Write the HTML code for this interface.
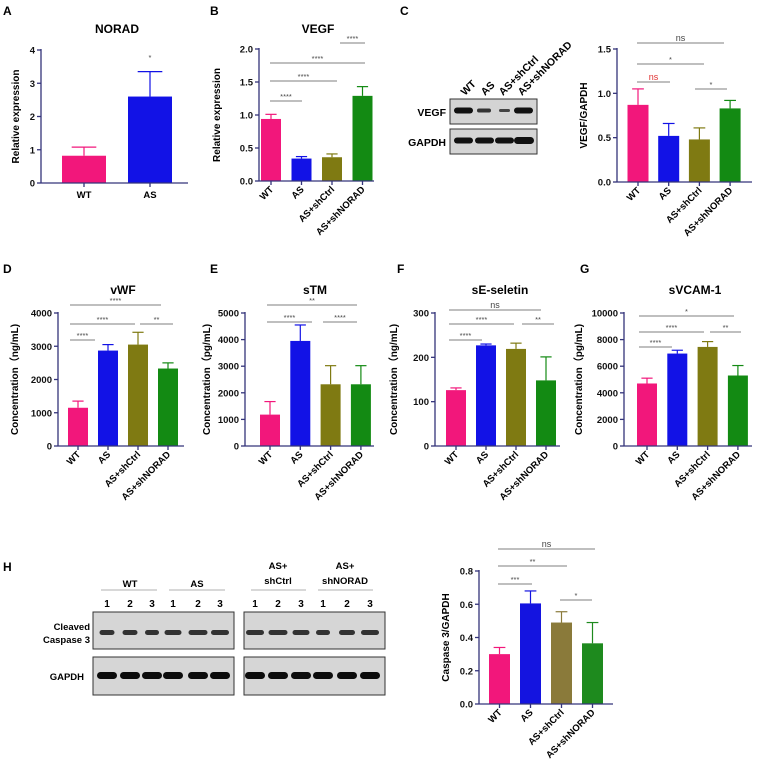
<!DOCTYPE html>
<html><head><meta charset="utf-8">
<style>
html,body{margin:0;padding:0;background:#fff;}
svg{display:block;font-family:"Liberation Sans",Arial,sans-serif;}
</style></head>
<body>
<svg id="fig" width="760" height="771" viewBox="0 0 760 771" xmlns="http://www.w3.org/2000/svg">
<g font-weight="bold" font-size="12" fill="#000">
<text x="3" y="15">A</text><text x="210" y="15">B</text><text x="400" y="15">C</text>
<text x="3" y="273">D</text><text x="210" y="273">E</text><text x="397" y="273">F</text><text x="580" y="273">G</text>
<text x="3" y="571">H</text>
</g>
<!-- Western blot C -->
<g>
<rect x="450" y="99" width="87" height="25" fill="#d4d4d4" stroke="#333" stroke-width="1"/>
<rect x="450" y="129" width="87" height="25" fill="#d4d4d4" stroke="#333" stroke-width="1"/>
<text x="446" y="116" text-anchor="end" font-size="10.5" font-weight="bold">VEGF</text>
<text x="446" y="146" text-anchor="end" font-size="10.5" font-weight="bold">GAPDH</text>
<rect x="454" y="107.5" width="19" height="6" rx="3" fill="#111"/>
<rect x="477" y="108.5" width="14" height="4" rx="2" fill="#333"/>
<rect x="499" y="109" width="11" height="3" rx="1.5" fill="#444"/>
<rect x="514" y="107.5" width="19" height="6" rx="3" fill="#111"/>
<rect x="454" y="137.5" width="19" height="6" rx="3" fill="#111"/>
<rect x="475" y="137.5" width="19" height="6" rx="3" fill="#111"/>
<rect x="495" y="137.5" width="19" height="6" rx="3" fill="#111"/>
<rect x="514" y="137" width="20" height="7" rx="3.5" fill="#111"/>
<g font-size="10.5" font-weight="bold">
<text transform="translate(465,96) rotate(-45)">WT</text>
<text transform="translate(485,96) rotate(-45)">AS</text>
<text transform="translate(503,96) rotate(-45)">AS+shCtrl</text>
<text transform="translate(522,96) rotate(-45)">AS+shNORAD</text>
</g>
</g>
<!-- Western blot H -->
<g font-weight="bold" font-size="9.5">
<rect x="93" y="612" width="141" height="37" fill="#d6d6d6" stroke="#333"/>
<rect x="93" y="657" width="141" height="38" fill="#d6d6d6" stroke="#333"/>
<rect x="244" y="612" width="141" height="37" fill="#d6d6d6" stroke="#333"/>
<rect x="244" y="657" width="141" height="38" fill="#d6d6d6" stroke="#333"/>
<text x="90" y="630" text-anchor="end">Cleaved</text>
<text x="90" y="643" text-anchor="end">Caspase 3</text>
<text x="84" y="680" text-anchor="end">GAPDH</text>
<text x="130" y="587" text-anchor="middle">WT</text>
<text x="197" y="587" text-anchor="middle">AS</text>
<text x="278" y="569" text-anchor="middle">AS+</text>
<text x="278" y="584" text-anchor="middle">shCtrl</text>
<text x="345" y="569" text-anchor="middle">AS+</text>
<text x="345" y="584" text-anchor="middle">shNORAD</text>
<g stroke="#999" stroke-width="0.8">
<line x1="101" y1="590" x2="157" y2="590"/><line x1="169" y1="590" x2="225" y2="590"/>
<line x1="251" y1="590" x2="306" y2="590"/><line x1="318" y1="590" x2="373" y2="590"/>
</g>
<g id="laneNums" text-anchor="middle"></g>
<g id="bands"></g>
</g>
<g id="charts"></g>
</svg>
<script>
// ---- data ----
const groups4 = ["WT","AS","AS+shCtrl","AS+shNORAD"];
const noradCats = ["WT","AS"];
const noradValues = [0.82, 2.6];
const noradErrors = [1.08, 3.35];
const noradTicks = [0,1,2,3,4];
const vegfValues = [0.94, 0.34, 0.36, 1.29];
const vegfErrors = [1.01, 0.37, 0.41, 1.43];
const vegfTicks = ["0.0","0.5","1.0","1.5","2.0"];
const vegfWbValues = [0.87, 0.52, 0.48, 0.83];
const vegfWbErrors = [1.05, 0.66, 0.61, 0.92];
const vegfWbTicks = ["0.0","0.5","1.0","1.5"];
const vwfValues = [1150, 2870, 3050, 2330];
const vwfErrors = [1350, 3050, 3420, 2500];
const vwfTicks = [0,1000,2000,3000,4000];
const stmValues = [1180, 3950, 2320, 2320];
const stmErrors = [1670, 4550, 3020, 3020];
const stmTicks = [0,1000,2000,3000,4000,5000];
const seselValues = [126, 227, 219, 148];
const seselErrors = [131, 230, 232, 201];
const seselTicks = [0,100,200,300];
const svcamValues = [4700, 6950, 7450, 5300];
const svcamErrors = [5100, 7200, 7850, 6050];
const svcamTicks = [0,2000,4000,6000,8000,10000];
const casValues = [0.30, 0.605, 0.49, 0.365];
const casErrors = [0.34, 0.68, 0.555, 0.49];
const casTicks = ["0.0","0.2","0.4","0.6","0.8"];

const NS = "http://www.w3.org/2000/svg";
function mk(tag, attrs, parent){
  const e = document.createElementNS(NS, tag);
  for (const k in attrs) e.setAttribute(k, attrs[k]);
  parent.appendChild(e); return e;
}
const COLS = ["#f2177b","#1212e6","#7f7a12","#138a13"];
const COLS_H = ["#f2177b","#1414e0","#8a7a3a","#1e8a1e"];

function chart(cfg){
  const root = document.getElementById("charts");
  const g = mk("g", {}, root);
  
  
  const n = cfg.values.length;
  const tmax = parseFloat(cfg.ticks[cfg.ticks.length-1]);
  const ys = v => cfg.y0 - (v / tmax) * (cfg.y0 - cfg.yTop);
  const xc = i => cfg.x0 + cfg.first + i * cfg.step;
  if (cfg.title){
    const t = mk("text", {x: cfg.titleX, y: cfg.titleY, "text-anchor":"middle", "font-size":"12", "font-weight":"bold"}, g);
    t.textContent = cfg.title;
    
    
  }
  for (let i=0;i<n;i++){
    const col = cfg.colors[i];
    const top = ys(cfg.values[i]);
    const b = mk("rect", {x: xc(i)-cfg.bw/2, y: top, width: cfg.bw, height: cfg.y0-top, fill: col}, g);
    
    
    const et = ys(cfg.errors[i]);
    mk("line", {x1: xc(i), y1: top, x2: xc(i), y2: et, stroke: col, "stroke-width": 1.2}, g);
    mk("line", {x1: xc(i)-cfg.bw*0.28, y1: et, x2: xc(i)+cfg.bw*0.28, y2: et, stroke: col, "stroke-width": 1.2}, g);
  }
  const ax = mk("g", {stroke:"#34347a", "stroke-width":1.3}, g);
  
  
  mk("line", {x1: cfg.x0, y1: cfg.yTop-1, x2: cfg.x0, y2: cfg.y0}, ax);
  mk("line", {x1: cfg.x0, y1: cfg.y0, x2: cfg.xEnd, y2: cfg.y0}, ax);
  cfg.ticks.forEach(tv=>{
    const y = ys(parseFloat(tv));
    mk("line", {x1: cfg.x0-4, y1: y, x2: cfg.x0, y2: y}, ax);
    const tl = mk("text", {x: cfg.x0-6, y: y+3.5, "text-anchor":"end", "font-size":"9.5", "font-weight":"bold", stroke:"none", fill:"#111"}, g);
    tl.textContent = tv;
    
    
  });
  for (let i=0;i<n;i++){
    mk("line", {x1: xc(i), y1: cfg.y0, x2: xc(i), y2: cfg.y0+4}, ax);
    let lab;
    if (cfg.flat){
      lab = mk("text", {x: xc(i), y: cfg.y0+15, "text-anchor":"middle", "font-size":"9.5", "font-weight":"bold"}, g);
    } else {
      lab = mk("text", {transform: `translate(${xc(i)+3},${cfg.y0+9}) rotate(-45)`, "text-anchor":"end", "font-size":"9.5", "font-weight":"bold"}, g);
    }
    lab.textContent = cfg.cats[i];
    
    
  }
  const yt = mk("text", {transform:`translate(${cfg.ytX},${(cfg.y0+cfg.yTop)/2}) rotate(-90)`, "text-anchor":"middle", "font-size":"10", "font-weight":"bold"}, g);
  yt.textContent = cfg.ytitle;
  
  
  (cfg.sig||[]).forEach(s=>{
    mk("line", {x1: s[0], y1: s[2], x2: s[1], y2: s[2], stroke:"#555", "stroke-width":0.8}, g);
    const st = mk("text", {x:(s[0]+s[1])/2, y: s[2]-2, "text-anchor":"middle", "font-size": s[3].startsWith("n")?"9":"7.5", fill: s[4]||"#444"}, g);
    st.textContent = s[3];
    
    
  });
}

chart({name:"chart-norad", cats:noradCats, values:noradValues, errors:noradErrors, ticks:noradTicks,
  x0:41, y0:183, yTop:50, xEnd:188, first:43, step:66, bw:44, colors:[COLS[0],COLS[1]],
  title:"NORAD", titleX:117, titleY:33, ytitle:"Relative expression", ytX:19, flat:true,
  sig:[[150,150,62,"*"]]});
chart({name:"chart-vegf", cats:groups4, values:vegfValues, errors:vegfErrors, ticks:vegfTicks,
  x0:259, y0:181, yTop:49, xEnd:374, first:12, step:30.5, bw:20, colors:COLS,
  title:"VEGF", titleX:318, titleY:33, ytitle:"Relative expression", ytX:220,
  sig:[[270,302,101,"****"],[270,337,81,"****"],[270,365,63,"****"],[340,365,43,"****"]]});
chart({name:"chart-vegf-gapdh", cats:groups4, values:vegfWbValues, errors:vegfWbErrors, ticks:vegfWbTicks,
  x0:617, y0:182, yTop:49, xEnd:752, first:21, step:30.7, bw:21, colors:COLS,
  ytitle:"VEGF/GAPDH", ytX:587,
  sig:[[637,724,43,"ns"],[637,704,64,"*"],[637,670,82,"ns","#e03030"],[695,727,89,"*"]]});
chart({name:"chart-vwf", cats:groups4, values:vwfValues, errors:vwfErrors, ticks:vwfTicks,
  x0:58, y0:446, yTop:313, xEnd:184, first:20, step:30, bw:20, colors:COLS,
  title:"vWF", titleX:123, titleY:294, ytitle:"Concentration（ng/mL)", ytX:18,
  sig:[[70,161,305,"****"],[70,135,324,"****"],[140,173,324,"**"],[70,95,340,"****"]]});
chart({name:"chart-stm", cats:groups4, values:stmValues, errors:stmErrors, ticks:stmTicks,
  x0:245, y0:446, yTop:313, xEnd:374, first:25, step:30.3, bw:20, colors:COLS,
  title:"sTM", titleX:315, titleY:294, ytitle:"Concentration（pg/mL)", ytX:210,
  sig:[[267,357,305,"**"],[267,312,322,"****"],[323,357,322,"****"]]});
chart({name:"chart-seselectin", cats:groups4, values:seselValues, errors:seselErrors, ticks:seselTicks,
  x0:435, y0:446, yTop:313, xEnd:560, first:21, step:30, bw:20, colors:COLS,
  title:"sE-seletin", titleX:500, titleY:294, ytitle:"Concentration（ng/mL)", ytX:397,
  sig:[[449,541,310,"ns"],[449,514,324,"****"],[522,554,324,"**"],[449,482,340,"****"]]});
chart({name:"chart-svcam", cats:groups4, values:svcamValues, errors:svcamErrors, ticks:svcamTicks,
  x0:624, y0:446, yTop:313, xEnd:752, first:23, step:30.3, bw:20, colors:COLS,
  title:"sVCAM-1", titleX:695, titleY:294, ytitle:"Concentration（pg/mL)", ytX:582,
  sig:[[639,734,316,"*"],[639,704,332,"****"],[710,741,332,"**"],[639,672,347,"****"]]});
chart({name:"chart-caspase3", cats:groups4, values:casValues, errors:casErrors, ticks:casTicks,
  x0:479, y0:704, yTop:571, xEnd:613, first:20.5, step:31, bw:21, colors:COLS_H,
  ytitle:"Caspase 3/GAPDH", ytX:449,
  sig:[[498,595,549,"ns"],[498,567,566,"**"],[498,532,584,"***"],[560,592,600,"*"]]});

// blot H lanes
const laneX = [107,130,152,173,198,220,255,278,301,323,347,370];
const cleavedW = [15,15,14,17,19,18,18,19,17,14,16,18];
const ln = document.getElementById("laneNums");
const bd = document.getElementById("bands");
laneX.forEach((x,i)=>{
  const t = mk("text",{x:x, y:607, "text-anchor":"middle", "font-size":"10"}, ln);
  t.textContent = String(i%3+1);
  mk("rect",{x:x-cleavedW[i]/2, y:630, width:cleavedW[i], height:5, rx:2.5, fill:"#333"}, bd);
  mk("rect",{x:x-10, y:672, width:20, height:7, rx:3.5, fill:"#0c0c0c"}, bd);
});
</script>
</body></html>
